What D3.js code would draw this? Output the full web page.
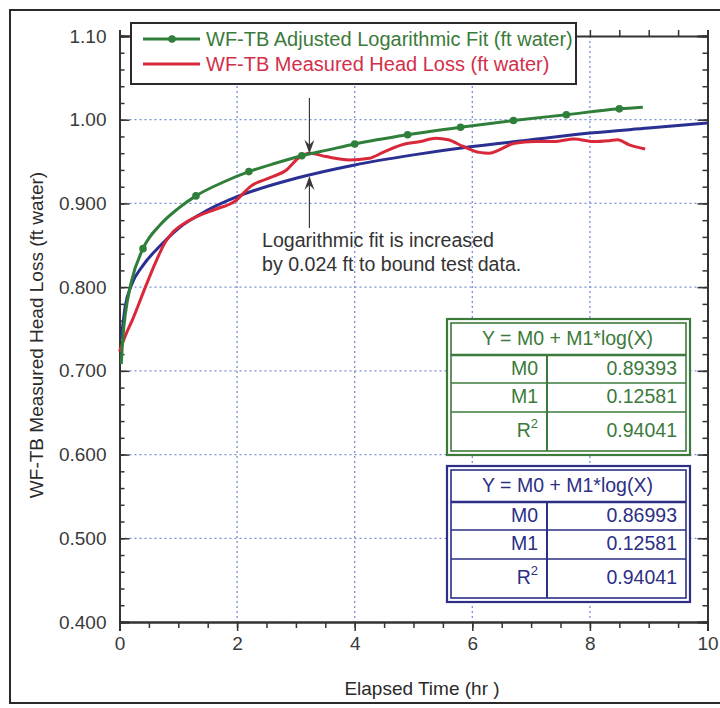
<!DOCTYPE html>
<html lang="en">
  <head>
    <meta charset="utf-8">
    <title>WF-TB Head Loss</title>
    <script src="https://d3js.org/d3.v7.js"></script>
    <style>
      body { margin: 0; background: #fff; }
      text { font-family: "Liberation Sans", Arial, sans-serif; }
    </style>
  </head>
  <body>
    <script>

  // width and height
  var w = 720;
  var h = 708;
  var margin = {top: 36, right: 12.5, bottom: 86, left: 119.5};
  var innerWidth = w - margin.left - margin.right;
  var innerHeight = h - margin.top - margin.bottom;

  // adjusted log fit (green)
  var adjTime = [0.03, 0.06, 0.1, 0.2, 0.4, 0.7, 1.0, 1.3, 1.75, 2.2, 2.65, 3.1, 3.55, 4.0, 4.9, 5.8, 6.7, 7.6, 8.5, 8.9];
  var adjHead = [0.708, 0.742, 0.768, 0.806, 0.846, 0.875, 0.894, 0.909, 0.925, 0.938, 0.948, 0.957, 0.964, 0.971, 0.982, 0.991, 0.999, 1.006, 1.013, 1.015];
  var adjMarkerTime = [0.4, 1.3, 2.2, 3.1, 4.0, 4.9, 5.8, 6.7, 7.6, 8.5];

  // original log fit (blue)
  var fitTime = [0.03, 0.1, 0.2, 0.4, 0.7, 1.0, 1.5, 2, 3, 4, 5, 6, 7, 8, 9, 10];
  var fitHead = [0.738, 0.778, 0.802, 0.826, 0.850, 0.870, 0.892, 0.908, 0.930, 0.946, 0.958, 0.968, 0.976, 0.984, 0.990, 0.996];

  // measured head loss (red)
  var measTime = [0, 0.1, 0.22, 0.44, 0.61, 0.78, 0.9, 1.12, 1.4, 1.63, 1.97, 2.24, 2.57, 2.84, 3.04, 3.24, 3.51, 3.91, 4.25, 4.51, 4.85, 5.12, 5.38, 5.59, 5.85, 6.12, 6.29, 6.46, 6.72, 7.06, 7.39, 7.73, 8.06, 8.33, 8.47, 8.67, 8.94];
  var measHead = [0.723, 0.742, 0.761, 0.800, 0.829, 0.854, 0.865, 0.877, 0.887, 0.893, 0.903, 0.921, 0.931, 0.940, 0.954, 0.960, 0.956, 0.952, 0.954, 0.962, 0.971, 0.974, 0.978, 0.976, 0.968, 0.961, 0.960, 0.964, 0.972, 0.974, 0.974, 0.977, 0.974, 0.975, 0.976, 0.970, 0.965];

  // ticks
  var xTicks = [0, 2, 4, 6, 8, 10];
  var yTicks = [0.4, 0.5, 0.6, 0.7, 0.8, 0.9, 1.0, 1.1];
  var yTickLabels = ["0.400", "0.500", "0.600", "0.700", "0.800", "0.900", "1.00", "1.10"];

  // fit tables
  var tableTitle = "Y = M0 + M1*log(X)";
  var paramNames = ["M0", "M1", "R"];
  var adjParams = ["0.89393", "0.12581", "0.94041"];
  var fitParams = ["0.86993", "0.12581", "0.94041"];

  var green = "#2f7f3b", red = "#d8283a", blue = "#2a2f92";
  var greenText = "#3b7a3b", blueText = "#2c2f85";
  var axisCol = "#333";

  var svg = d3.select("body").append("svg")
    .attr("width", w)
    .attr("height", h);

  // outer frame
  svg.append("rect")
    .attr("x", 10).attr("y", 10)
    .attr("width", 740).attr("height", 693)
    .attr("fill", "none").attr("stroke", "#2a2a2a").attr("stroke-width", 2);

  var g = svg.append("g")
    .attr("transform", `translate(${margin.left}, ${margin.top})`);

  var xScale = d3.scaleLinear().domain([0, 10]).range([0, innerWidth]);
  var yScale = d3.scaleLinear().domain([0.4, 1.1]).range([innerHeight, 0]);

  // grid
  g.append("g").selectAll("line")
    .data(xTicks.slice(1, -1))
    .enter().append("line")
    .attr("x1", d => xScale(d)).attr("x2", d => xScale(d))
    .attr("y1", 0).attr("y2", innerHeight)
    .attr("stroke", "#7a8ed8").attr("stroke-width", 1.3)
    .attr("stroke-dasharray", "2,3");
  g.append("g").selectAll("line")
    .data(yTicks.slice(1, -1))
    .enter().append("line")
    .attr("x1", 0).attr("x2", innerWidth)
    .attr("y1", d => yScale(d)).attr("y2", d => yScale(d))
    .attr("stroke", "#7a8ed8").attr("stroke-width", 1.3)
    .attr("stroke-dasharray", "2,3");

  // axes
  var minorX = d3.range(0, 10.01, 0.5);
  var minorY = d3.range(0.4, 1.1001, 0.02);

  function styleAxis(sel) {
    sel.select(".domain").attr("stroke", axisCol).attr("stroke-width", 2);
    sel.selectAll(".tick line").attr("stroke", axisCol).attr("stroke-width", 1.5);
    sel.selectAll("text")
      .attr("fill", "#3a3a3a")
      .style("font-size", "19px")
      .style("font-family", '"Liberation Sans", Arial, sans-serif');
  }
  // minor axes get no labels at all
  function minorAxis(sel) {
    styleAxis(sel);
    sel.selectAll("text").remove();
  }

  g.append("g")
    .attr("transform", `translate(0, ${innerHeight})`)
    .call(d3.axisBottom(xScale).tickValues(minorX).tickSize(6))
    .call(minorAxis);
  g.append("g")
    .attr("transform", `translate(0, ${innerHeight})`)
    .call(d3.axisBottom(xScale).tickValues(xTicks).tickSize(9).tickPadding(6).tickFormat(d3.format("d")))
    .call(styleAxis);

  g.append("g")
    .call(d3.axisTop(xScale).tickValues(minorX).tickSize(6))
    .call(minorAxis);

  g.append("g")
    .call(d3.axisLeft(yScale).tickValues(minorY).tickSize(-5))
    .call(minorAxis);
  g.append("g")
    .call(d3.axisLeft(yScale).tickValues(yTicks).tickSize(-10).tickPadding(13)
      .tickFormat((d, i) => yTickLabels[i]))
    .call(styleAxis);

  g.append("g")
    .attr("transform", `translate(${innerWidth}, 0)`)
    .call(d3.axisRight(yScale).tickValues(minorY).tickSize(-5))
    .call(minorAxis);
  g.append("g")
    .attr("transform", `translate(${innerWidth}, 0)`)
    .call(d3.axisRight(yScale).tickValues(yTicks).tickSize(-10))
    .call(minorAxis);

  // axis titles
  svg.append("text")
    .attr("x", 422).attr("y", 695)
    .attr("text-anchor", "middle")
    .attr("fill", "#2a2a2a")
    .style("font-size", "19px")
    .text("Elapsed Time (hr )");

  svg.append("text")
    .attr("transform", "translate(43, 335) rotate(-90)")
    .attr("text-anchor", "middle")
    .attr("fill", "#2a2a2a")
    .style("font-size", "19px")
    .text("WF-TB Measured Head Loss (ft water)");

  // lines
  var line = d3.line()
    .x(d => xScale(d[0]))
    .y(d => yScale(d[1]))
    .curve(d3.curveMonotoneX);

  var plot = g.append("g");

  plot.append("path")
    .datum(d3.zip(fitTime, fitHead))
    .attr("d", line)
    .attr("fill", "none").attr("stroke", blue).attr("stroke-width", 3);

  plot.append("path")
    .datum(d3.zip(measTime, measHead))
    .attr("d", line)
    .attr("fill", "none").attr("stroke", red).attr("stroke-width", 3);

  plot.append("path")
    .datum(d3.zip(adjTime, adjHead))
    .attr("d", line)
    .attr("fill", "none").attr("stroke", green).attr("stroke-width", 3);

  plot.selectAll(".marker")
    .data(d3.zip(adjTime, adjHead).filter(d => adjMarkerTime.includes(d[0])))
    .enter().append("circle")
    .attr("class", "marker")
    .attr("cx", d => xScale(d[0]))
    .attr("cy", d => yScale(d[1]))
    .attr("r", 3.8)
    .attr("fill", green);

  // annotation arrows
  var arrowX = xScale(3.23);
  var topTip = yScale(0.958) - 1;
  var botTip = yScale(0.934) + 1;
  var ann = g.append("g").attr("stroke", "#3a3a3a").attr("fill", "#3a3a3a");
  ann.append("line")
    .attr("x1", arrowX).attr("x2", arrowX)
    .attr("y1", 98 - margin.top).attr("y2", topTip - 4)
    .attr("stroke-width", 1.2);
  ann.append("line")
    .attr("x1", arrowX).attr("x2", arrowX)
    .attr("y1", 228 - margin.top).attr("y2", botTip + 4)
    .attr("stroke-width", 1.2);
  ann.append("path")
    .attr("d", `M${arrowX},${topTip} L${arrowX - 5},${topTip - 14} L${arrowX},${topTip - 9} L${arrowX + 5},${topTip - 14} Z`)
    .attr("stroke", "none");
  ann.append("path")
    .attr("d", `M${arrowX},${botTip} L${arrowX - 5},${botTip + 14} L${arrowX},${botTip + 9} L${arrowX + 5},${botTip + 14} Z`)
    .attr("stroke", "none");

  var note = svg.append("text")
    .attr("fill", "#333")
    .style("font-size", "19.6px");
  note.append("tspan").attr("x", 262).attr("y", 247).text("Logarithmic fit is increased");
  note.append("tspan").attr("x", 262).attr("y", 271).text("by 0.024 ft to bound test data.");

  // legend
  var legend = svg.append("g");
  legend.append("rect")
    .attr("x", 131).attr("y", 23)
    .attr("width", 445).attr("height", 61)
    .attr("fill", "#fff").attr("stroke", "#2a2a2a").attr("stroke-width", 2);
  var legendItems = [
    {label: "WF-TB Adjusted Logarithmic Fit (ft water)", color: green, text: greenText, marker: true},
    {label: "WF-TB Measured Head Loss (ft water)", color: red, text: "#d2304a", marker: false}
  ];
  legendItems.forEach(function (d, i) {
    var ly = 39 + i * 25;
    legend.append("line")
      .attr("x1", 143).attr("x2", 200)
      .attr("y1", ly).attr("y2", ly)
      .attr("stroke", d.color).attr("stroke-width", 3);
    if (d.marker) {
      legend.append("circle").attr("cx", 172).attr("cy", ly).attr("r", 3.8).attr("fill", d.color);
    }
    legend.append("text")
      .attr("x", 206).attr("y", ly + 7)
      .attr("fill", d.text)
      .style("font-size", "20px")
      .text(d.label);
  });

  // fit parameter tables
  function drawTable(x0, y0, color, values) {
    var tw = 243;
    var rows = [36, 28, 29, 43];
    var th = d3.sum(rows);
    var t = svg.append("g").attr("transform", `translate(${x0}, ${y0})`);
    t.append("rect").attr("width", tw).attr("height", th)
      .attr("fill", "#fff").attr("stroke", color).attr("stroke-width", 2.2);
    t.append("rect").attr("x", 4).attr("y", 4).attr("width", tw - 8).attr("height", th - 8)
      .attr("fill", "none").attr("stroke", color).attr("stroke-width", 1.6);
    var yy = 0;
    rows.slice(0, -1).forEach(function (rh, i) {
      yy += rh;
      t.append("line").attr("x1", 4).attr("x2", tw - 4).attr("y1", yy).attr("y2", yy)
        .attr("stroke", color).attr("stroke-width", i === 0 ? 2.6 : 1.6);
    });
    t.append("line").attr("x1", 100).attr("x2", 100).attr("y1", rows[0]).attr("y2", th - 4)
      .attr("stroke", color).attr("stroke-width", 2);
    t.append("text")
      .attr("x", tw / 2 - 1).attr("y", 26)
      .attr("text-anchor", "middle").attr("fill", color)
      .style("font-size", "19.5px")
      .text(tableTitle);
    var top = rows[0];
    paramNames.forEach(function (name, i) {
      var base = top + (i === 2 ? 25 : 20);
      var lab = t.append("text")
        .attr("x", 91).attr("y", base)
        .attr("text-anchor", "end").attr("fill", color)
        .style("font-size", "19.5px");
      lab.append("tspan").text(name);
      if (i === 2) {
        lab.append("tspan").attr("dy", -9).style("font-size", "13px").text("2");
      }
      t.append("text")
        .attr("x", 230).attr("y", base)
        .attr("text-anchor", "end").attr("fill", color)
        .style("font-size", "19.5px")
        .text(values[i]);
      top += rows[i + 1];
    });
  }

  drawTable(447, 319, greenText, adjParams);
  drawTable(447, 466, blueText, fitParams);

    </script>
  </body>
</html>
